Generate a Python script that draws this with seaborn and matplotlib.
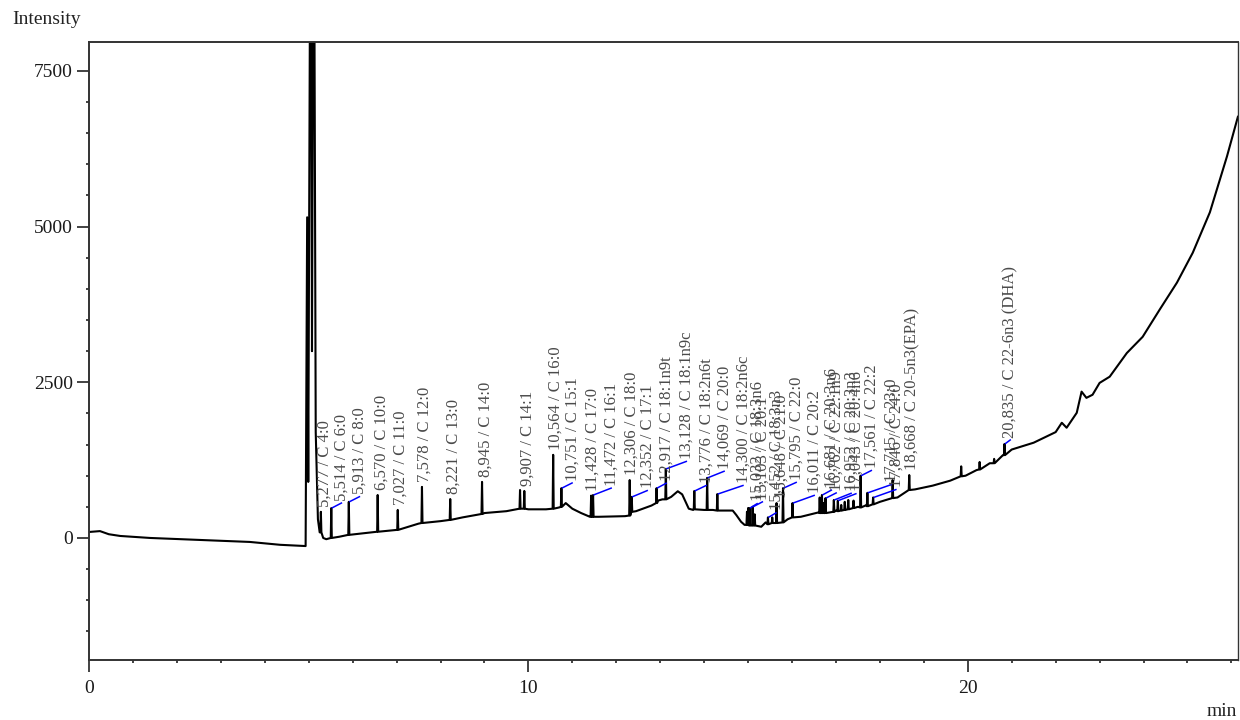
import numpy as np
import pandas as pd
import seaborn as sns
import matplotlib.pyplot as plt
from matplotlib.ticker import MultipleLocator

# Continuous part of the FID signal: drifting baseline, solvent front and humps
trace_time = [0.00, 0.25, 0.45, 0.71, 1.39, 2.53, 3.66, 4.35, 4.90,
              4.93, 4.965, 4.99, 5.045, 5.075, 5.115, 5.16, 5.21, 5.25,
              5.33, 5.40, 5.70, 6.30, 7.00, 7.50, 8.00, 8.50, 9.00, 9.50,
              10.00, 10.40, 10.70, 10.85, 11.00, 11.20, 11.40, 11.60, 12.20,
              12.45, 12.80, 12.95, 13.05, 13.25, 13.40, 13.50, 13.65, 13.75,
              14.00, 14.20, 14.45, 14.65, 14.73, 14.84, 14.92, 15.30, 15.40,
              15.60, 15.90, 16.20, 16.60, 17.00, 17.50, 17.70, 18.00, 18.40,
              18.80, 19.20, 19.60, 19.95, 20.20, 20.50, 20.80, 21.00, 21.50,
              22.00, 22.14, 22.25, 22.48, 22.59, 22.70, 22.84, 23.00, 23.23,
              23.62, 23.98, 24.37, 24.76, 25.12, 25.51, 25.90, 26.15]
trace_level = [96, 110, 60, 32, 0, -32, -64, -110, -130,
               -130, 5150, 900, 12000, 3000, 12000, 1700, 300, 90,
               0, -20, 20, 80, 130, 230, 270, 330, 400, 430,
               460, 460, 490, 560, 470, 400, 340, 340, 350,
               430, 520, 600, 620, 660, 750, 700, 470, 450,
               450, 450, 440, 440, 370, 260, 210, 180, 250,
               240, 300, 340, 410, 440, 500, 530, 580, 650,
               780, 840, 920, 1000, 1090, 1200, 1330, 1420, 1530,
               1700, 1850, 1770, 2010, 2350, 2250, 2300, 2490, 2590,
               2970, 3230, 3670, 4100, 4580, 5230, 6130, 6770]

# Identified FAME peaks: retention time, apex, level at the peak foot, name
peak_time = [5.277, 5.514, 5.913, 6.570, 7.027, 7.578, 8.221, 8.945, 9.907,
             10.564, 10.751, 11.428, 11.472, 12.306, 12.352, 12.917, 13.128,
             13.776, 14.069, 14.300, 15.032, 15.103, 15.452, 15.648, 15.795,
             16.011, 16.681, 16.762, 16.952, 17.043, 17.561, 17.715, 17.846,
             18.668, 20.835]
peak_height = [420, 480, 580, 690, 450, 820, 625, 900, 755,
               1335, 800, 680, 690, 930, 660, 800, 1110,
               755, 965, 705, 480, 500, 330, 560, 800,
               560, 690, 640, 610, 600, 1000, 725, 650,
               1010, 1510]
peak_foot = [90, 0, 50, 100, 130, 240, 290, 385, 470,
             470, 500, 340, 340, 360, 420, 560, 620,
             460, 450, 440, 200, 200, 220, 240, 250,
             330, 400, 400, 420, 430, 490, 510, 540,
             770, 1330]
peak_name = ["C 4:0", "C 6:0", "C 8:0", "C 10:0", "C 11:0", "C 12:0", "C 13:0",
             "C 14:0", "C 14:1", "C 16:0", "C 15:1", "C 17:0", "C 16:1",
             "C 18:0", "C 17:1", "C 18:1n9t", "C 18:1n9c", "C 18:2n6t",
             "C 20:0", "C 18:2n6c", "C 18:3n6", "C 20:1", "C 18:3n3", "C 21:0",
             "C 22:0", "C 20:2", "C 20:3n6", "C 22:1n9", "C 20:3n3",
             "C 20:4n6", "C 22:2", "C 23:0", "C 24:0", "C 20-5n3(EPA)",
             "C 22-6n3 (DHA)"]

# Unnamed peaks
other_time = [9.810, 14.975, 15.000, 15.150, 15.550, 16.630, 16.720, 17.120,
              17.200, 17.280, 17.400, 18.290, 19.850, 20.270, 20.600]
other_height = [770, 420, 480, 380, 330, 650, 560, 530, 580, 610, 600, 930,
                1150, 1220, 1270]
other_foot = [470, 210, 210, 200, 240, 400, 400, 440, 450, 460, 480, 640,
              990, 1100, 1200]

# Where each peak label sits along the time axis
label_time = [5.37, 5.76, 6.17, 6.65, 7.10, 7.65, 8.30, 9.02, 9.99,
              10.62, 11.01, 11.47, 11.90, 12.36, 12.72, 13.15, 13.61,
              14.06, 14.47, 14.90, 15.22, 15.34, 15.65, 15.77, 16.11,
              16.52, 16.91, 17.02, 17.36, 17.47, 17.82, 18.27, 18.38,
              18.75, 20.98]

XMIN, XMAX = 0.0, 26.15
YMIN, YMAX = -1960, 7965
HALF = 0.012

# Assemble the chromatogram as one polyline
pts = list(zip(trace_time, trace_level))
for t, h, f in zip(peak_time + other_time, peak_height + other_height,
                   peak_foot + other_foot):
    pts += [(t - HALF, f), (t, h), (t + HALF, f)]
pts.sort(key=lambda p: p[0])
df = pd.DataFrame(pts, columns=["time", "intensity"])

sns.set_style("white")
plt.rcParams["font.family"] = ["Liberation Serif", "DejaVu Serif"]

W, H = 1240, 720
fig = plt.figure(figsize=(W / 100, H / 100), dpi=100)
L, R, T, B = 89, 1238, 42, 660
ax = fig.add_axes([L / W, 1 - B / H, (R - L) / W, (B - T) / H])

sns.lineplot(data=df, x="time", y="intensity", ax=ax, color="black",
             linewidth=1.5, estimator=None, sort=False)

ax.set_xlim(XMIN, XMAX)
ax.set_ylim(YMIN, YMAX)
ax.set_xlabel("")
ax.set_ylabel("")

ax.xaxis.set_major_locator(MultipleLocator(10))
ax.xaxis.set_minor_locator(MultipleLocator(1))
ax.yaxis.set_major_locator(MultipleLocator(2500))
ax.yaxis.set_minor_locator(MultipleLocator(500))
ax.tick_params(which="major", direction="out", length=8.5, width=1.2,
               color="#222222", labelsize=14, pad=3, bottom=True, left=True,
               labelcolor="#1a1a1a")
ax.tick_params(axis="x", which="major", pad=6)
ax.tick_params(which="minor", direction="out", length=2.5, width=1.2,
               color="#222222", bottom=True, left=True)
for side in ["left", "bottom", "top", "right"]:
    ax.spines[side].set_visible(True)
    ax.spines[side].set_color("#333333")
    ax.spines[side].set_linewidth(1.4)
ax.spines["right"].set_linewidth(1.0)

# Peak labels with blue leader lines when shifted sideways
px_per_min = (R - L) / (XMAX - XMIN)
units_per_px = (YMAX - YMIN) / (B - T)
for t, h, name, lt in zip(peak_time, peak_height, peak_name, label_time):
    dx_px = (lt - t) * px_per_min
    if dx_px > 6:
        rise = (3 + 0.22 * dx_px) * units_per_px
        end = h + rise
        ax.plot([t + 0.01, lt], [h, end], color="#0000ff", linewidth=1.1,
                solid_capstyle="butt")
        y_txt = end + 2 * units_per_px
    else:
        y_txt = h + 5 * units_per_px
    txt = f"{t:.3f}".replace(".", ",") + " / " + name
    ax.text(lt, y_txt, txt, rotation=90, ha="center", va="bottom",
            fontsize=12, color="#4a4a4a")

fig.text(12 / W, 1 - 20 / H, "Intensity", ha="left", va="center",
         fontsize=14, color="#222222")
fig.text(1237 / W, 1 - 711 / H, "min", ha="right", va="center",
         fontsize=14, color="#222222")

fig.savefig("out.png", dpi=100)
